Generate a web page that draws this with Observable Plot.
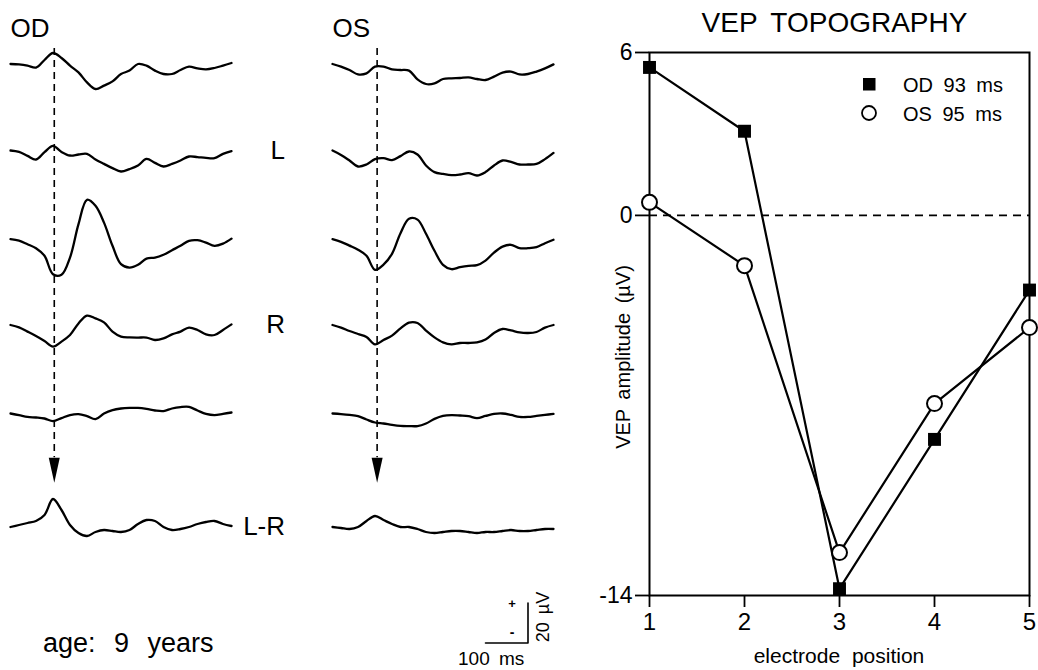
<!DOCTYPE html>
<html><head><meta charset="utf-8">
<script src="https://cdn.jsdelivr.net/npm/d3@7"></script>
<script src="https://cdn.jsdelivr.net/npm/@observablehq/plot@0.6"></script>
<style>
body{margin:0;background:#fff;}
#fig{position:relative;width:1038px;height:670px;font-family:"Liberation Sans",Arial,Helvetica,sans-serif;color:#000;overflow:hidden;background:#fff}
.panel{position:absolute;top:0}
</style></head><body><div id="fig"></div>
<script>
// ---------- data: VEP traces (µV, positive up), sampled every 20 ms ----------
const eyes = ["OD", "OS"];
const latency = [93, 95];           // ms, dashed line / legend latencies
const times = [-10,10,30,50,70,90,110,130,150,170,190,210,230,250,270,290,310,330,350,370,390,410,430,450,470,490,510];
const rowNames = ["1","2","3","4","5","L-R"];
const rowLabels = ["", "L", "", "R", "", "L-R"];

const od1 = [0,-0.2,-0.8,-1.8,2.0,5.5,3.0,-0.8,-4.2,-9.2,-12.5,-10.8,-8.7,-5,-3.3,0,-0.8,-3.3,-5,-5,-3,-1.3,-2.2,-2.7,-2,-0.8,0.5];
const od2 = [0,-0.7,-2.7,-4.5,-0.8,2.3,-0.7,-2.5,-2,-1.7,-4.5,-6.7,-8.8,-10.5,-9.3,-7.5,-4.2,-6.2,-8,-6.7,-5,-3,-3.3,-3.7,-3.8,-1.7,-0.3];
const od3 = [0,-0.7,-2.5,-4.5,-8.3,-17.5,-17.8,-9.2,7.5,19.7,16.7,8.3,-3.3,-12.5,-14.2,-12.8,-9.7,-9.2,-7.8,-5.5,-3.3,-0.8,-0.5,-1.7,-3.3,-2.2,0.3];
const od4 = [0,-1.2,-3.3,-5.5,-8,-10.8,-8.3,-5,0.8,4.7,3.3,1.3,-3.3,-5.8,-6.2,-6.3,-6.3,-7.5,-6.7,-4.7,-3.3,-1.3,-2.5,-4.7,-5,-2.5,0.3];
const od5 = [0,-0.8,-1.7,-2,-2.5,-3.8,-2.3,-0.8,-0.3,-1.3,-2.8,0,1.7,2.5,2.8,2.8,2.3,1.5,1.2,2.5,3.2,3.3,1.5,-0.2,-0.8,-0.2,0.5];
const odLR = [0,1,2,3,6,14,8.5,1,-3,-4.5,-2.5,-1.5,-2,-2.5,-1.5,1.5,3.5,3,0,-1.5,-1,0,1.5,2.5,3,1.5,0.5];

const os1 = [0,-1.3,-3,-5.2,-4.7,-1.3,-1.3,-2.7,-3,-3.3,-7.7,-10,-9.7,-7.5,-7.2,-7,-6.7,-7.5,-8,-6.3,-4.3,-3.8,-5.2,-5,-3.8,-2.2,-0.2];
const os2 = [0,-2.2,-5,-8,-7,-4.3,-3.8,-4.8,-2.8,-0.5,-2,-7.5,-10.8,-11.7,-12.3,-12,-11.3,-12.5,-10.8,-7.5,-5,-5.7,-7,-7,-6.7,-4.3,-1.2];
const os3 = [0,-1.3,-3.2,-5.3,-8.3,-15.3,-12.7,-7.3,3,10.2,9.8,2.7,-5.8,-12.8,-15,-14,-13.3,-13,-10.7,-6.7,-3.7,-2.8,-4.5,-4.5,-4,-2,-0.3];
const os4 = [0,-1.3,-3,-4.5,-6,-9.7,-7.5,-5.3,-1.7,1.2,1,-2.8,-6.2,-8.7,-9.7,-9,-9,-8.7,-7.3,-4,-2,-2.7,-3.7,-4,-3.5,-1.3,0];
const os5 = [0,-0.3,-0.7,-1.3,-3,-4.5,-5,-5.7,-6.2,-6.3,-6.3,-5,-2.7,-1.2,-0.8,-1,-1.3,-2.3,-1.2,-0.2,0,-0.7,-1.7,-1.7,-1.2,-0.7,-0.2];
const osLR = [0,-0.5,-1,0,3,5.5,3.5,1.5,0,0,-1,-2.5,-3,-2.5,-2,-2,-2.5,-3,-2.5,-2.5,-2,-1.5,-2,-2,-1.5,-1,-1];

// ---------- data: VEP topography ----------
const electrodes = [1, 2, 3, 4, 5];
const odAmp = [5.45, 3.1, -13.75, -8.25, -2.75];
const osAmp = [0.48, -1.85, -12.42, -6.93, -4.13];
const yTicks = [6, 0, -14];
const seriesNames = ["OD 93 ms", "OS 95 ms"];

// ---------- layout constants (stacked-trace display) ----------
const rowOffset = [0, -43.25, -87.6, -130.5, -174.75, -231.5]; // µV spacing of stacked traces
const scaleBar = {t: [350, 450], v: [-289.5, -269.5]};         // 100 ms × 20 µV calibration

const FONT = '"Liberation Sans", Arial, Helvetica, sans-serif';
const fig = d3.select("#fig");

const traceDefs = [
  ["OD",0,od1],["OD",1,od2],["OD",2,od3],["OD",3,od4],["OD",4,od5],["OD",5,odLR],
  ["OS",0,os1],["OS",1,os2],["OS",2,os3],["OS",3,os4],["OS",4,os5],["OS",5,osLR]
];
const traceTable = traceDefs.flatMap(([eye,row,vals]) =>
  times.map((t,i) => ({eye, row: rowNames[row], key: eye + row, t, y: vals[i] + rowOffset[row]})));

const marks = eyes.map((e,i) => ({eye: e, lat: latency[i]}));
const arrowY = (rowOffset[4] + rowOffset[5]) / 2;
const arrowR = 12.5;
const arrowHead = {
  draw(ctx, size) {
    const r = Math.sqrt(size / Math.PI);
    ctx.moveTo(-0.44 * r, -r); ctx.lineTo(0.44 * r, -r); ctx.lineTo(0, r); ctx.closePath();
  }
};
const labelRows = rowLabels.map((l,i) => ({text: l, y: rowOffset[i]})).filter(d => d.text);

const left = Plot.plot({
  width: 580, height: 670,
  marginLeft: 10, marginRight: 27, marginTop: 0, marginBottom: 0,
  style: {fontFamily: FONT, background: "transparent", overflow: "visible", color: "#000"},
  fx: {domain: eyes, padding: 0.3137, axis: null},
  x: {domain: [-10, 510], axis: null},
  y: {domain: [-303.25, 31.75], axis: null},
  marks: [
    Plot.ruleX(marks, {fx: "eye", x: "lat", y1: rowOffset[0] + 7.75, y2: arrowY + arrowR / 2,
      stroke: "#000", strokeWidth: 1.6, strokeDasharray: "7,5"}),
    Plot.dot(marks, {fx: "eye", x: "lat", y: () => arrowY, r: arrowR, symbol: arrowHead, fill: "#000", stroke: "none"}),
    Plot.line(traceTable, {fx: "eye", x: "t", y: "y", z: "key", stroke: "#000", strokeWidth: 2.3,
      curve: "catmull-rom", strokeLinejoin: "round"}),
    Plot.text(eyes, {fx: d => d, text: d => d, frameAnchor: "top-left", dy: 18, lineAnchor: "top",
      textAnchor: "start", fontSize: 26}),
    Plot.text(labelRows, {fx: () => "OD", x: () => 636, y: "y", text: "text", textAnchor: "end",
      lineAnchor: "middle", fontSize: 26}),
    Plot.line([[scaleBar.t[0], scaleBar.v[0]], [scaleBar.t[1], scaleBar.v[0]], [scaleBar.t[1], scaleBar.v[1]]],
      {fx: () => "OS", x: d => d[0], y: d => d[1], stroke: "#000", strokeWidth: 1.6})
  ]
});

const right = Plot.plot({
  width: 458, height: 670,
  marginLeft: 69, marginRight: 9, marginTop: 52, marginBottom: 75,
  style: {fontFamily: FONT, background: "transparent", overflow: "visible", color: "#000"},
  x: {domain: [1, 5]},
  y: {domain: [-14, 6]},
  marks: [
    Plot.ruleY([0], {stroke: "#000", strokeWidth: 1.6, strokeDasharray: "8,6"}),
    Plot.frame({stroke: "#000", strokeWidth: 2}),
    Plot.axisX({ticks: electrodes, tickSize: 12, tickPadding: 5, tickFormat: d => String(d), label: null,
      fontSize: 24, strokeWidth: 1.8}),
    Plot.axisY({ticks: yTicks, tickSize: 14, tickPadding: 3, tickFormat: d => String(d), label: null,
      fontSize: 23, strokeWidth: 1.8}),
    Plot.line(electrodes, {x: d => d, y: (d,i) => odAmp[i], stroke: "#000", strokeWidth: 2.2}),
    Plot.line(electrodes, {x: d => d, y: (d,i) => osAmp[i], stroke: "#000", strokeWidth: 2.2}),
    Plot.dot(electrodes, {x: d => d, y: (d,i) => osAmp[i], r: 7.5, symbol: "circle", fill: "#fff", stroke: "#000", strokeWidth: 2}),
    Plot.dot(electrodes, {x: d => d, y: (d,i) => odAmp[i], r: 7.3, symbol: "square", fill: "#000", stroke: "none"})
  ]
});

fig.append("div").attr("class","panel").style("left","0px").node().appendChild(left);
fig.append("div").attr("class","panel").attr("id","rightPanel").style("left","580px").node().appendChild(right);

// ---------- text overlay ----------
const ov = fig.append("svg").attr("width",1038).attr("height",670)
  .style("position","absolute").style("left","0px").style("top","0px")
  .style("font-family", FONT).style("pointer-events","none");
function txt(s, x, y, size, anchor = "start", rot = 0, ws = 0) {
  const t = ov.append("text").attr("font-size", size).attr("text-anchor", anchor)
    .attr("fill", "#000").attr("word-spacing", ws).text(s);
  if (rot) t.attr("transform", `translate(${x},${y}) rotate(${rot})`);
  else t.attr("x", x).attr("y", y);
  return t;
}
txt("VEP TOPOGRAPHY", 834.5, 32, 28, "middle", 0, 6);
txt("VEP amplitude (µV)", 623, 357, 20, "middle", -90, 4).attr("dy", "0.35em");
txt("electrode position", 839, 663, 21, "middle", 0, 6);
txt("age: 9 years", 43, 652, 27, "start", 0, 11);
txt("100 ms", 458, 665, 19, "start", 0, 4);
txt("20 µV", 543, 617, 18, "middle", -90, 3).attr("dy","0.35em");
txt("+", 512, 608, 13, "middle").attr("font-weight", "bold");
txt("-", 512, 637, 14, "middle").attr("font-weight", "bold");
// legend
ov.append("rect").attr("x", 863).attr("y", 78).attr("width", 12.5).attr("height", 12.5).attr("fill", "#000");
ov.append("circle").attr("cx", 869).attr("cy", 113).attr("r", 7).attr("fill", "#fff").attr("stroke", "#000").attr("stroke-width", 1.8);
txt(seriesNames[0], 903, 91.5, 20, "start", 0, 5);
txt(seriesNames[1], 903, 120.5, 20, "start", 0, 5);
</script></body></html>
